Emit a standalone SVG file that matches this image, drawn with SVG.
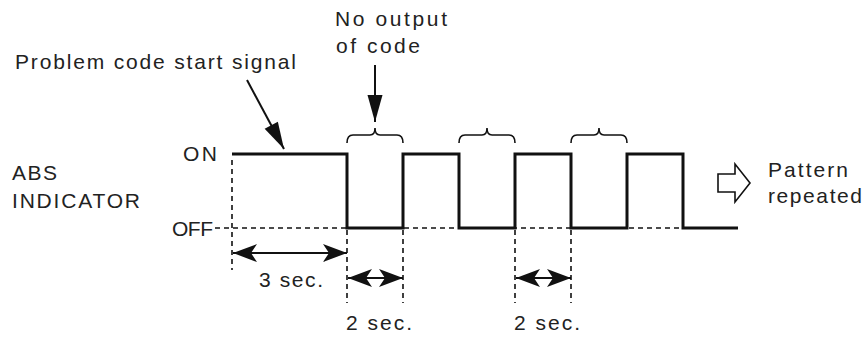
<svg xmlns="http://www.w3.org/2000/svg" width="864" height="339" viewBox="0 0 864 339">
<style>
text{font-family:"Liberation Sans",Arial,sans-serif;font-size:21px;fill:#222}
.sig{fill:none;stroke:#111;stroke-width:3}
.dash{fill:none;stroke:#111;stroke-width:1.6;stroke-dasharray:5 4}
.dim{fill:none;stroke:#111;stroke-width:2}
.brace{fill:none;stroke:#111;stroke-width:1.6}
</style>
<defs>
<marker id="head" markerUnits="userSpaceOnUse" markerWidth="30" markerHeight="22" viewBox="-26 -11 28 22" refX="0" refY="0" orient="auto-start-reverse">
<path d="M0,0 L-24,-9 L-18,0 L-24,9 Z" fill="#111"/>
</marker>
<marker id="ptr" markerUnits="userSpaceOnUse" markerWidth="30" markerHeight="20" viewBox="-28 -10 30 20" refX="0" refY="0" orient="auto">
<path d="M0,0 L-27,-7.5 L-27,7.5 Z" fill="#111"/>
</marker>
</defs>
<g id="labels">
<text x="15" y="69" textLength="281" lengthAdjust="spacing">Problem code start signal</text>
<text x="335" y="26" textLength="112" lengthAdjust="spacing">No output</text>
<text x="336" y="53" textLength="84" lengthAdjust="spacing">of code</text>
<text x="12" y="180" textLength="45" lengthAdjust="spacing">ABS</text>
<text x="12" y="208" textLength="128" lengthAdjust="spacing">INDICATOR</text>
<text x="183" y="161" textLength="34" lengthAdjust="spacing">ON</text>
<text x="172" y="236" textLength="41" lengthAdjust="spacing">OFF</text>
<text x="768" y="177" textLength="80" lengthAdjust="spacing">Pattern</text>
<text x="768" y="203" textLength="94" lengthAdjust="spacing">repeated</text>
<text x="259" y="287" textLength="64" lengthAdjust="spacing">3 sec.</text>
<text x="346" y="330" textLength="66" lengthAdjust="spacing">2 sec.</text>
<text x="514" y="330" textLength="66" lengthAdjust="spacing">2 sec.</text>
</g>
<g id="guides">
<path class="dash" d="M215,228 H683"/>
<path class="dash" d="M232,160 V270"/>
<path class="dash" d="M347,230 V303 M403,230 V303 M515,230 V303 M571,230 V303"/>
</g>
<g id="signal">
<path class="sig" d="M232,154 H347 V228 H403 V154 H459 V228 H515 V154 H571 V228 H627 V154 H683 V228 H738"/>
</g>
<g id="braces">
<path class="brace" d="M347,143 Q347,135 353,135 H370 Q375,135 375,128 Q375,135 380,135 H397 Q403,135 403,143"/>
<path class="brace" d="M459,143 Q459,135 465,135 H482 Q487,135 487,128 Q487,135 492,135 H509 Q515,135 515,143"/>
<path class="brace" d="M571,143 Q571,135 577,135 H594 Q599,135 599,128 Q599,135 604,135 H621 Q627,135 627,143"/>
</g>
<g id="connectors">
<path class="dim" d="M247,80 L284,149" marker-end="url(#ptr)"/>
<path class="dim" d="M375,65 V122" marker-end="url(#ptr)"/>
<path class="dim" d="M233,253 H347" marker-start="url(#head)" marker-end="url(#head)"/>
<path class="dim" d="M348,278 H403" marker-start="url(#head)" marker-end="url(#head)"/>
<path class="dim" d="M516,278 H571" marker-start="url(#head)" marker-end="url(#head)"/>
</g>
<g id="repeat-arrow">
<path d="M718,174 H735 V164 L750,183 L735,202 V192 H718 Z" fill="#fff" stroke="#111" stroke-width="1.6" stroke-linejoin="miter"/>
</g>
</svg>
